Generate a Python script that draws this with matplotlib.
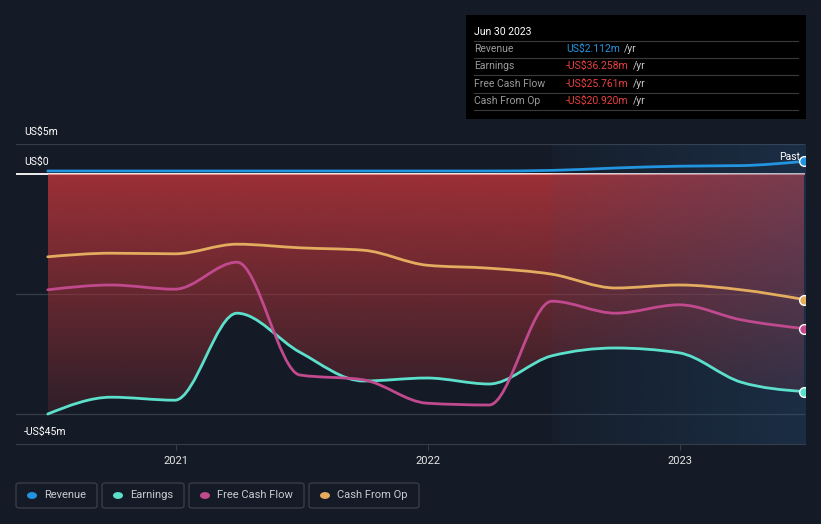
import numpy as np
import pandas as pd
import matplotlib
matplotlib.use("Agg")
import matplotlib.pyplot as plt
import matplotlib.dates as mdates
from matplotlib.path import Path
from matplotlib.patches import PathPatch, Rectangle, FancyBboxPatch
from datetime import datetime

plt.rcParams['font.family'] = ['Roboto', 'DejaVu Sans']

# quarterly trailing-twelve-month values, US$ millions
dates = ["2020-06-30", "2020-09-30", "2020-12-31", "2021-03-31", "2021-06-30",
         "2021-09-30", "2021-12-31", "2022-03-31", "2022-06-30", "2022-09-30",
         "2022-12-31", "2023-03-31", "2023-06-30"]
revenue = [0.5, 0.5, 0.5, 0.5, 0.5, 0.5, 0.5, 0.5, 0.6, 1.0, 1.3, 1.4, 2.112]
earnings = [-40.0, -37.2, -37.7, -23.2, -29.7, -34.5, -34.0, -35.0, -30.3,
            -29.0, -29.8, -34.7, -36.258]
free_cash_flow = [-19.3, -18.5, -19.2, -14.7, -33.5, -34.3, -38.2, -38.5,
                  -21.2, -23.2, -21.8, -24.3, -25.761]
cash_from_op = [-13.8, -13.2, -13.3, -11.7, -12.3, -12.7, -15.2, -15.7,
                -16.7, -19.0, -18.5, -19.3, -20.920]

series_names = ["Revenue", "Earnings", "Free Cash Flow", "Cash From Op"]
series_colors = ["#2394df", "#5ce0cc", "#c14a8e", "#e3ac5e"]
tooltip_values = ["US$2.112m", "-US$36.258m", "-US$25.761m", "-US$20.920m"]

BG = "#151b26"
W, H = 821, 524


def fx(px):
    return px / W


def fy(py):
    return 1 - py / H


def monotone_path(x, y):
    x = np.asarray(x, float)
    y = np.asarray(y, float)
    n = len(x)
    h = np.diff(x)
    s = np.diff(y) / h
    m = np.zeros(n)
    for i in range(1, n - 1):
        p = (s[i - 1] * h[i] + s[i] * h[i - 1]) / (h[i - 1] + h[i])
        m[i] = (np.sign(s[i - 1]) + np.sign(s[i])) * min(abs(s[i - 1]), abs(s[i]), 0.5 * abs(p))
    m[0] = (3 * s[0] - m[1]) / 2
    m[-1] = (3 * s[-1] - m[-2]) / 2
    verts = [(x[0], y[0])]
    codes = [Path.MOVETO]
    for i in range(n - 1):
        d = h[i] / 3
        verts += [(x[i] + d, y[i] + m[i] * d), (x[i + 1] - d, y[i + 1] - m[i + 1] * d),
                  (x[i + 1], y[i + 1])]
        codes += [Path.CURVE4] * 3
    return verts, codes


xs = mdates.date2num(pd.to_datetime(dates))
x_left, x_right = xs[0] - 46, xs[-1] + 1.5
y_bot, y_top = -45, 5

fig = plt.figure(figsize=(W / 100, H / 100), dpi=100, facecolor=BG)
ax = fig.add_axes([fx(16), fy(444), fx(805) - fx(16), (444 - 144) / H])
ax.set_facecolor(BG)

# grid lines and zero line
for v in [5, -20, -40]:
    ax.axhline(v, color="#363c48", lw=0.9, zorder=0.5)
ax.axhline(0, color="#ffffff", lw=1.3, zorder=0.6)

# earnings area with red vertical gradient
ev, ec = monotone_path(xs, earnings)
fill_verts = ev + [(xs[-1], 0), (xs[0], 0), (xs[0], earnings[0])]
fill_codes = ec + [Path.LINETO, Path.LINETO, Path.CLOSEPOLY]
fill_path = Path(fill_verts, fill_codes)
grad = np.zeros((256, 2, 4))
t = np.linspace(0, 1, 256)
grad[:, :, 0] = 168 / 255
grad[:, :, 1] = 50 / 255
grad[:, :, 2] = 56 / 255
grad[:, :, 3] = (0.92 - 0.84 * t)[:, None]
im = ax.imshow(grad, extent=[xs[0], xs[-1], -45, 0], aspect="auto", origin="upper",
               interpolation="bilinear", zorder=1)
im.set_clip_path(PathPatch(fill_path, transform=ax.transData))
ax.plot([xs[0], xs[-1]], [0, 0], color="#e88a8a", lw=0.8, zorder=1.1)

# "past" overlay from the last year
past_start = mdates.date2num(datetime(2022, 6, 30))
ov = np.zeros((2, 256, 4))
ov[:, :, 0] = 40 / 255
ov[:, :, 1] = 90 / 255
ov[:, :, 2] = 140 / 255
ov[:, :, 3] = np.linspace(0.06, 0.3, 256)[None, :]
ax.imshow(ov, extent=[past_start, x_right, y_bot, y_top], aspect="auto",
          interpolation="bilinear", zorder=1.5)

# series lines
all_series = [revenue, earnings, free_cash_flow, cash_from_op]
for vals, col in zip(all_series, series_colors):
    v, c = monotone_path(xs, vals)
    ax.add_patch(PathPatch(Path(v, c), facecolor="none", edgecolor=col, lw=2.0,
                           zorder=3, capstyle="round"))
    ax.plot(xs[-1], vals[-1], "o", ms=7, mfc=col, mec="white", mew=1.0, zorder=4)

ax.set_xlim(x_left, x_right)
ax.set_ylim(y_bot, y_top)

for sp in ["top", "right", "left"]:
    ax.spines[sp].set_visible(False)
ax.spines["bottom"].set_color("#363c48")
ax.set_yticks([])
year_ticks = [mdates.date2num(datetime(y, 1, 1)) for y in (2021, 2022, 2023)]
ax.set_xticks(year_ticks)
ax.set_xticklabels(["2021", "2022", "2023"])
ax.tick_params(axis="x", colors="#363c48", length=4, width=0.8, pad=5, labelsize=8,
               labelcolor="#e6e6e6")

# y labels above their lines
ylab_tr = ax.get_yaxis_transform()
for v, lab in [(5, "US$5m"), (0, "US$0"), (-45, "-US$45m")]:
    ax.text(0.01, v + 2, lab, transform=ylab_tr, color="#ffffff", fontsize=7.5,
            va="center", ha="left")
ax.text(xs[-1] - 5, 2.9, "Past", color="#ffffff", fontsize=7.5, ha="right", va="center",
        zorder=5)

# tooltip box
fig.patches.append(Rectangle((fx(466), fy(119)), fx(806) - fx(466), fy(15) - fy(119),
                             transform=fig.transFigure, facecolor="#000000",
                             edgecolor="none", zorder=0))
fig.text(fx(474), fy(32), "Jun 30 2023", color="#ffffff", fontsize=7.5, va="center")
for ly in [41, 58, 75, 93, 110]:
    fig.lines.append(plt.Line2D([fx(474), fx(798)], [fy(ly), fy(ly)],
                                transform=fig.transFigure, color="#3a3a3a", lw=0.8))
renderer = fig.canvas.get_renderer()
for i, (name, val) in enumerate(zip(series_names, tooltip_values)):
    ry = [49, 66, 84, 101][i]
    fig.text(fx(474), fy(ry), name, color="#9a9a9a", fontsize=7.5, va="center")
    col = "#2394df" if i == 0 else "#e8403f"
    vt = fig.text(fx(566), fy(ry), val, color=col, fontsize=7.5, va="center")
    bb = vt.get_window_extent(renderer)
    fig.text(fx(bb.x1 + 4), fy(ry), "/yr", color="#c8c8c8", fontsize=7.5, va="center")

# legend boxes
boxes = [(16, 97), (102, 184), (189, 304), (309, 419)]
for (bx0, bx1), name, col in zip(boxes, series_names, series_colors):
    fig.patches.append(FancyBboxPatch((fx(bx0), fy(508)), fx(bx1) - fx(bx0), fy(483) - fy(508),
                                      boxstyle="round,pad=0,rounding_size=0.004",
                                      transform=fig.transFigure, facecolor="none",
                                      edgecolor="#3a3f4a", lw=0.9))
    fig.patches.append(plt.Circle((fx(bx0 + 16), fy(495.5)), 0.0052,
                                  transform=fig.transFigure, color=col))
    fig.text(fx(bx0 + 28), fy(495.5), name, color="#c9cbd0", fontsize=8, va="center")

fig.savefig("out.png", dpi=100, facecolor=BG)
